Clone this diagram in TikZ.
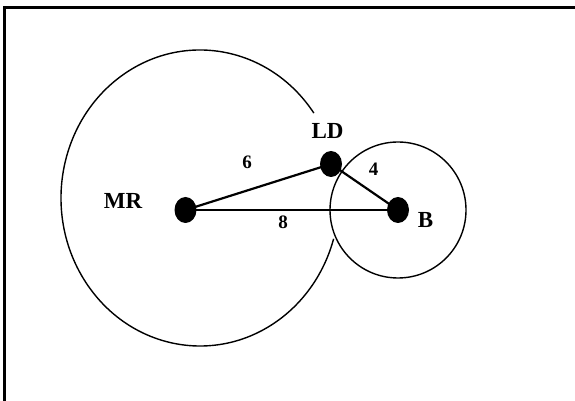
\documentclass[tikz,border=0pt]{standalone}
\usepackage{fontspec}
\setmainfont{Liberation Serif}
\usetikzlibrary{shapes.geometric,calc}
\begin{document}
\begin{tikzpicture}[x=1pt,y=1pt,
  dot/.style={ellipse,fill=black,draw=none,minimum width=22pt,minimum height=26pt,inner sep=0pt},
  lbl/.style={font=\bfseries\fontsize{23}{25}\selectfont,inner sep=0pt},
  num/.style={font=\bfseries\fontsize{19}{21}\selectfont,inner sep=0pt},
  edge/.style={line width=2.2pt},
  ring/.style={line width=1.4pt}]
\useasboundingbox (0,0) rectangle (575,401);
\fill[white] (0,0) rectangle (575,401);
% frame (top and left edges)
\coordinate (fl) at (4.5,0);
\coordinate (ftl) at (4.5,393.5);
\coordinate (ftr) at (575,393.5);
\draw[line width=2.6pt] (fl) -- (ftl) -- (ftr);
% circles
\coordinate (bigc) at (200,203);
\draw[ring] ($(bigc)+({139*cos(35)},{148*sin(35)})$) arc[start angle=35,end angle=344,x radius=139,y radius=148];
\coordinate (smallc) at (398,191);
\draw[ring] (smallc) circle[radius=68];
% dots
\node[dot] (MR) at (185.5,191) {};
\node[dot] (LD) at (331,237) {};
\node[dot] (B) at (398,191) {};
% edges
\draw[edge] (MR.center) -- (LD.center);
\draw[edge] (MR.center) -- (B.center);
\draw[edge] (LD.center) -- (B.center);
% labels
\node[lbl] (tMR) at (123,200) {MR};
\node[lbl] (tLD) at (327.5,270) {LD};
\node[lbl] (tB) at (425.5,181) {B};
\node[num] (t6) at (247,239) {6};
\node[num] (t4) at (373.5,232) {4};
\node[num] (t8) at (283,179) {8};
\end{tikzpicture}
\end{document}
